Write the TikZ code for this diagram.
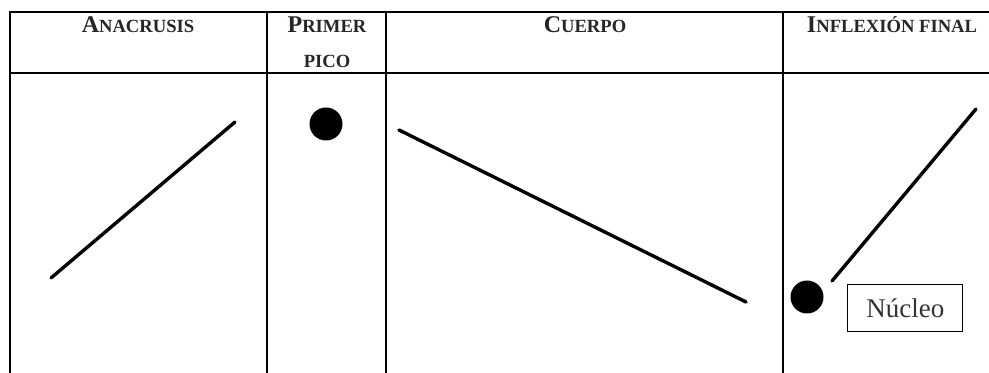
\documentclass[tikz,border=0pt]{standalone}
\usepackage{fontspec}
\setmainfont{Liberation Serif}
\usetikzlibrary{positioning}
% versalitas simuladas: inicial grande, resto pequeño
\newcommand{\versalita}[2]{{\fontsize{12}{14}\selectfont #1}{\fontsize{9.3}{11}\selectfont #2}}

\begin{document}
\begin{tikzpicture}[x=0.5pt, y=-0.5pt,
    cab/.style={font=\bfseries, text=black!85, anchor=base, inner sep=0pt},
    rejilla/.style={line width=1.1pt, color=black},
    trazo/.style={line width=1.7pt, color=black, line cap=round},
    punto/.style={circle, fill=black, minimum size=16.5pt, inner sep=0pt},
    caja/.style={
        rectangle, draw, line width=0.5pt,
        minimum width=57.5pt, minimum height=23.5pt, inner sep=0pt,
        font=\fontsize{13.5}{15}\selectfont, text=black!80}]
  \useasboundingbox (0,0) rectangle (989,373);
  % Rejilla de la tabla
  \draw[rejilla] (10,373) -- (10,12) -- (989,12);
  \draw[rejilla] (10,73) -- (989,73);
  \foreach \xc in {267,386,783}
    \draw[rejilla] (\xc,12) -- (\xc,373);
  % Cabeceras
  \node[cab] (hana)    at (138,33) {\versalita{A}{NACRUSIS}};
  \node[cab] (hprimer) at (327,33) {\versalita{P}{RIMER}};
  \node[cab] (hpico)   at (327,68) {\versalita{}{PICO}};
  \node[cab] (hcuerpo) at (585,33) {\versalita{C}{UERPO}};
  \node[cab] (hinfl)   at (892,33) {\versalita{I}{NFLEXIÓN FINAL}};
  % Contornos
  \coordinate (anaIni) at (51,278);
  \coordinate (anaFin) at (235,122);
  \draw[trazo] (anaIni) -- (anaFin);
  \node[punto] (pico) at (326,124) {};
  \coordinate (cuerpoIni) at (399,130);
  \coordinate (cuerpoFin) at (746,302);
  \draw[trazo] (cuerpoIni) -- (cuerpoFin);
  \node[punto] (nucleo) at (807,297) {};
  \coordinate (inflIni) at (832,281);
  \coordinate (inflFin) at (976,109);
  \draw[trazo] (inflIni) -- (inflFin);
  \node[caja, right=11.75pt of nucleo.east, anchor=west, yshift=-5.75pt] (etiq) {Núcleo};
\end{tikzpicture}
\end{document}
